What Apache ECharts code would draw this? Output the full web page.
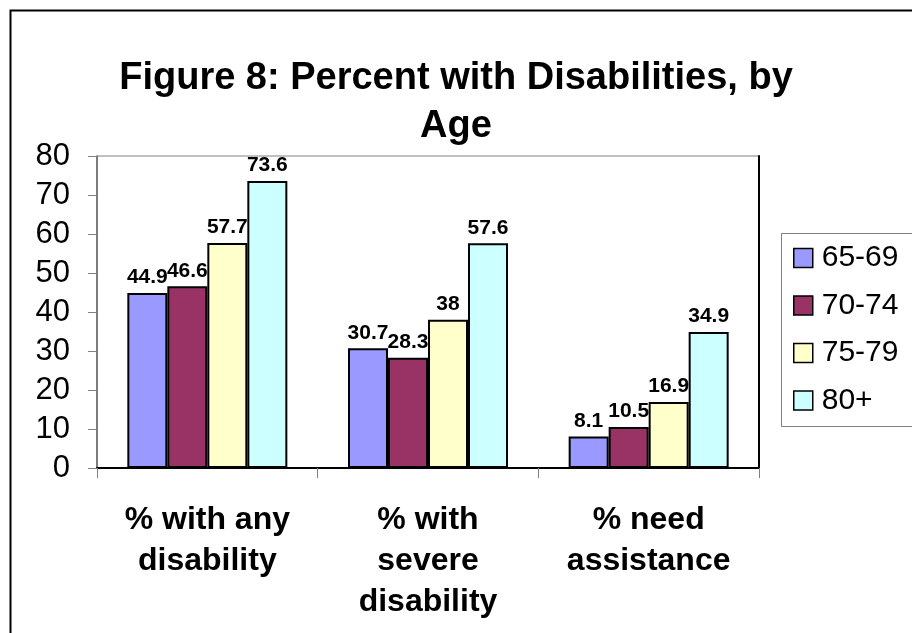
<!DOCTYPE html>
<html>
<head>
<meta charset="utf-8">
<script src="https://cdn.jsdelivr.net/npm/echarts@6/dist/echarts.min.js"></script>
<style>html,body{margin:0;padding:0;background:#fff;}#c{width:912px;height:633px;}</style>
</head>
<body>
<div id="c"></div>
<script>
const titleText = 'Figure 8: Percent with Disabilities, by\nAge';
const categories = ['% with any\ndisability', '% with\nsevere\ndisability', '% need\nassistance'];
const seriesNames = ['65-69', '70-74', '75-79', '80+'];
const s6569 = [44.9, 30.7, 8.1];
const s7074 = [46.6, 28.3, 10.5];
const s7579 = [57.7, 38, 16.9];
const s80 = [73.6, 57.6, 34.9];
const colors = ['#9999FF', '#993366', '#FFFFCC', '#CCFFFF'];
const yTicks = [0, 10, 20, 30, 40, 50, 60, 70, 80];

const FONT = 'Liberation Sans, Arial, sans-serif';
const chart = echarts.init(document.getElementById('c'), null, {renderer: 'canvas'});
const allSeries = [s6569, s7074, s7579, s80];

chart.setOption({
  animation: false,
  backgroundColor: '#fff',
  title: {
    text: titleText,
    left: 'center',
    top: 50,
    textStyle: {fontFamily: FONT, fontSize: 38, fontWeight: 'bold', color: '#000', lineHeight: 48}
  },
  graphic: [
    {type: 'rect', left: 8, top: 8, shape: {width: 1000, height: 1000}, style: {fill: 'none', stroke: '#000', lineWidth: 2}, z: -1},
    {type: 'rect', left: 781, top: 233, shape: {width: 200, height: 193}, style: {fill: '#fff', stroke: '#808080', lineWidth: 1}, z: 0}
  ],
  legend: {
    data: seriesNames,
    orient: 'vertical',
    left: 793,
    top: 243,
    padding: 0,
    itemWidth: 19,
    itemHeight: 19,
    itemGap: 17.5,
    icon: 'rect',
    itemStyle: {borderColor: '#000', borderWidth: 1.5},
    textStyle: {fontFamily: FONT, fontSize: 30, color: '#000', padding: [0, 0, 0, 4]},
    z: 5
  },
  grid: {left: 97, right: 153, top: 156, bottom: 165, show: true, borderColor: '#808080', borderWidth: 1, containLabel: false},
  xAxis: {
    type: 'category',
    data: categories,
    axisLine: {lineStyle: {color: '#000', width: 2}},
    axisTick: {show: true, length: 10, lineStyle: {color: '#808080', width: 1}},
    axisLabel: {fontFamily: FONT, fontSize: 32, fontWeight: 'bold', color: '#000', lineHeight: 41, margin: 32, interval: 0}
  },
  yAxis: [{
    type: 'value',
    min: 0, max: 80, interval: 10,
    axisLine: {show: true, lineStyle: {color: '#666', width: 1.5}},
    axisTick: {show: true, length: 9, lineStyle: {color: '#808080'}},
    splitLine: {show: false},
    axisLabel: {fontFamily: FONT, fontSize: 31, color: '#000', margin: 27,
      formatter: v => yTicks.includes(v) ? String(v) : ''}
  }, {
    type: 'value', position: 'right', min: 0, max: 80, interval: 10,
    axisLine: {show: true, lineStyle: {color: '#000', width: 2}},
    axisTick: {show: false}, axisLabel: {show: false}, splitLine: {show: false}
  }],
  series: seriesNames.map((n, i) => ({
    name: n,
    type: 'bar',
    data: allSeries[i],
    barWidth: 40,
    barGap: '0%',
    itemStyle: {color: colors[i], borderColor: '#000', borderWidth: 2},
    label: {show: true, position: 'top', distance: 5, fontFamily: FONT, fontSize: 21, fontWeight: 'bold', color: '#000'}
  }))
});
</script>
</body>
</html>
